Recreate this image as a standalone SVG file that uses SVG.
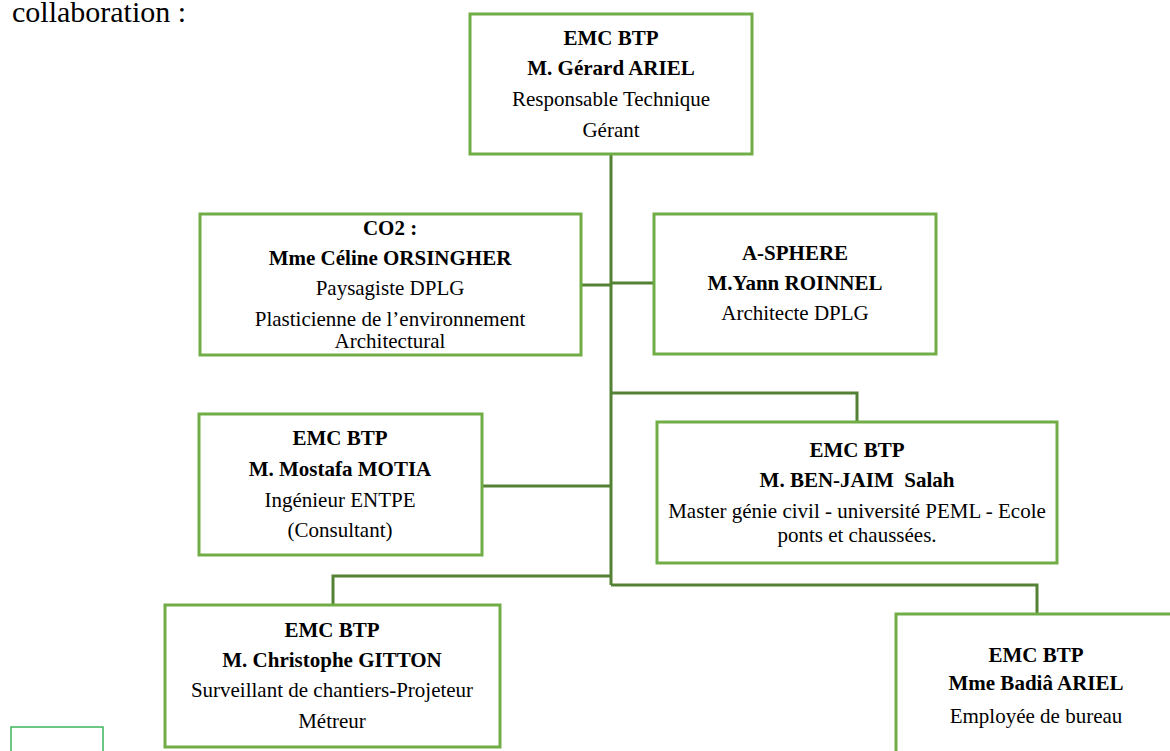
<svg xmlns="http://www.w3.org/2000/svg" width="1170" height="751" viewBox="0 0 1170 751">
<style>
.box{fill:#fff;stroke:#70ad47;stroke-width:3}
.ln{fill:none;stroke:#548235;stroke-width:3}
text{font-family:"Liberation Serif","Times New Roman",serif;font-size:21px;fill:#000;text-anchor:middle}
.b{font-weight:bold}
</style>
<rect width="1170" height="751" fill="#fff"/>
<text x="12" y="22" style="font-size:30px;text-anchor:start">collaboration :</text>
<g id="connectors">
<path class="ln" d="M611,154 V585"/>
<path class="ln" d="M581,285 H611"/>
<path class="ln" d="M611,283 H654"/>
<path class="ln" d="M611,393 H857 V422"/>
<path class="ln" d="M482,486 H611"/>
<path class="ln" d="M611,576 H333 V605"/>
<path class="ln" d="M611,585 H1037 V614"/>
</g>
<g id="n-ariel">
<rect class="box" x="470" y="14" width="282" height="140"/>
<text class="b" x="611" y="45">EMC BTP</text>
<text class="b" x="611" y="75">M. Gérard ARIEL</text>
<text x="611" y="106">Responsable Technique</text>
<text x="611" y="137">Gérant</text>
</g>
<g id="n-co2">
<rect class="box" x="200" y="214" width="381" height="141"/>
<text class="b" x="390" y="235">CO2 :</text>
<text class="b" x="390" y="265">Mme Céline ORSINGHER</text>
<text x="390" y="295">Paysagiste DPLG</text>
<text x="390" y="326">Plasticienne de l’environnement</text>
<text x="390" y="348">Architectural</text>
</g>
<g id="n-asphere">
<rect class="box" x="654" y="214" width="282" height="140"/>
<text class="b" x="795" y="260">A-SPHERE</text>
<text class="b" x="795" y="290">M.Yann ROINNEL</text>
<text x="795" y="320">Architecte DPLG</text>
</g>
<g id="n-motia">
<rect class="box" x="199" y="414" width="283" height="141"/>
<text class="b" x="340" y="445">EMC BTP</text>
<text class="b" x="340" y="476">M. Mostafa MOTIA</text>
<text x="340" y="507">Ingénieur ENTPE</text>
<text x="340" y="537">(Consultant)</text>
</g>
<g id="n-benjaim">
<rect class="box" x="657" y="422" width="400" height="141"/>
<text class="b" x="857" y="457">EMC BTP</text>
<text class="b" x="857" y="487" style="white-space:pre">M. BEN-JAIM  Salah</text>
<text x="857" y="518">Master génie civil - université PEML - Ecole</text>
<text x="857" y="542">ponts et chaussées.</text>
</g>
<g id="n-gitton">
<rect class="box" x="165" y="605" width="335" height="142"/>
<text class="b" x="332" y="637">EMC BTP</text>
<text class="b" x="332" y="667">M. Christophe GITTON</text>
<text x="332" y="697">Surveillant de chantiers-Projeteur</text>
<text x="332" y="728">Métreur</text>
</g>
<g id="n-badia">
<rect class="box" x="896" y="614" width="282" height="150"/>
<text class="b" x="1036" y="662">EMC BTP</text>
<text class="b" x="1036" y="690">Mme Badiâ ARIEL</text>
<text x="1036" y="723">Employée de bureau</text>
</g>
<g id="n-small">
<rect x="11" y="727" width="92" height="40" fill="none" stroke="#3cb55a" stroke-width="1.5"/>
</g>
</svg>
